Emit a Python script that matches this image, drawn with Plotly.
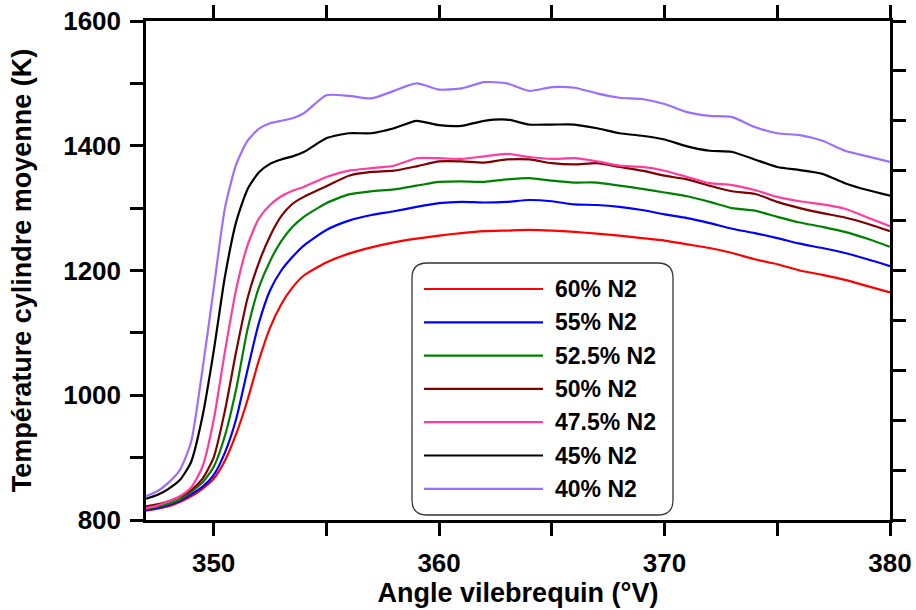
import plotly.graph_objects as go

# ---- data ----
angle = [347, 347.5, 348, 348.5, 349, 349.5, 350, 350.5, 351, 351.5, 352, 352.5, 353, 353.5, 354,
         355, 356, 357, 358, 359, 360, 361, 362, 363, 364, 365, 366, 367, 368, 369, 370,
         371, 372, 373, 374, 375, 376, 377, 378, 379, 380]

n2_60 = [815, 818, 822, 829, 838, 850, 866, 895, 938, 992, 1055, 1108, 1146, 1173, 1192,
         1213, 1227, 1237, 1245, 1251, 1256, 1260, 1263, 1264, 1265, 1264, 1262, 1259, 1256, 1252, 1248,
         1242, 1236, 1228, 1218, 1210, 1200, 1193, 1185, 1175, 1165]
n2_55 = [816, 819, 824, 831, 841, 853, 872, 908, 962, 1040, 1115, 1168, 1200, 1222, 1240,
         1265, 1280, 1289, 1295, 1302, 1308, 1310, 1309, 1310, 1313, 1311, 1306, 1305, 1302, 1297, 1290,
         1284, 1276, 1267, 1260, 1252, 1243, 1236, 1228, 1218, 1207]
n2_525 = [818, 821, 826, 833, 845, 860, 885, 935, 1010, 1105, 1172, 1215, 1247, 1270, 1286,
          1308, 1322, 1327, 1330, 1336, 1342, 1343, 1342, 1346, 1348, 1344, 1341, 1341, 1336, 1331, 1325,
          1319, 1310, 1300, 1296, 1286, 1277, 1270, 1262, 1251, 1238]
n2_50 = [822, 825, 830, 837, 848, 866, 900, 975, 1070, 1155, 1212, 1255, 1287, 1307, 1318,
         1335, 1352, 1358, 1360, 1367, 1375, 1375, 1373, 1378, 1378, 1372, 1370, 1372, 1366, 1360, 1352,
         1346, 1336, 1327, 1323, 1310, 1300, 1292, 1285, 1275, 1263]
n2_475 = [819, 823, 830, 838, 852, 885, 960, 1070, 1170, 1240, 1283, 1305, 1319, 1328, 1334,
          1350, 1360, 1364, 1368, 1380, 1380, 1379, 1383, 1387, 1382, 1379, 1380, 1375, 1368, 1366, 1360,
          1350, 1340, 1337, 1329, 1318, 1311, 1306, 1299, 1285, 1271]
n2_45 = [834, 840, 850, 864, 893, 965, 1070, 1190, 1278, 1330, 1357, 1371, 1378, 1383, 1390,
         1412, 1420, 1420, 1428, 1440, 1433, 1432, 1440, 1442, 1434, 1434, 1434, 1428, 1420, 1416, 1410,
         1399, 1392, 1390, 1378, 1366, 1361, 1355, 1340, 1329, 1320]
n2_40 = [838, 846, 860, 880, 925, 1040, 1170, 1300, 1370, 1408, 1427, 1436, 1440, 1444, 1452,
         1481, 1480, 1476, 1488, 1500, 1490, 1492, 1502, 1500, 1488, 1494, 1493, 1484, 1477, 1475, 1467,
         1454, 1448, 1446, 1430, 1420, 1417, 1408, 1392, 1383, 1374]

series_names = ["60% N2", "55% N2", "52.5% N2", "50% N2", "47.5% N2", "45% N2", "40% N2"]
series_values = [n2_60, n2_55, n2_525, n2_50, n2_475, n2_45, n2_40]
series_colors = ["#ff0000", "#0000ff", "#008000", "#800000", "#ff3d9e", "#000000", "#9d6dff"]

x_ticks = [350, 355, 360, 365, 370, 375, 380]
x_labels = ["350", "", "360", "", "370", "", "380"]
y_ticks = [800, 900, 1000, 1100, 1200, 1300, 1400, 1500, 1600]
y_labels = ["800", "", "1000", "", "1200", "", "1400", "", "1600"]
y_right_ticks = [800 + 80 * i for i in range(11)]

FONT = "Liberation Sans, Arial, sans-serif"

fig = go.Figure()
for name, vals, col in zip(series_names, series_values, series_colors):
    fig.add_trace(go.Scatter(x=angle, y=vals, mode="lines", name=name,
                             line=dict(color=col, width=2.2, shape="spline", smoothing=0.6),
                             showlegend=False))

# invisible trace to activate secondary axes
fig.add_trace(go.Scatter(x=[347], y=[800], xaxis="x2", yaxis="y2", mode="markers",
                         marker=dict(opacity=0), showlegend=False, hoverinfo="skip"))

axis_common = dict(showline=True, linecolor="black", linewidth=2.5, ticks="outside",
                   ticklen=13, tickwidth=2.5, tickcolor="black", showgrid=False, zeroline=False,
                   automargin=False)

fig.update_layout(
    width=916, height=610,
    margin=dict(l=146, r=26, t=21, b=90),
    paper_bgcolor="white", plot_bgcolor="white",
    font=dict(family=FONT, color="black"),
    xaxis=dict(range=[347, 380], tickvals=x_ticks, ticktext=x_labels,
               tickfont=dict(size=26, family=FONT, weight="bold"),
               title=dict(text="<b>Angle vilebrequin (°V)</b>", font=dict(size=27), standoff=6),
               ticklabelstandoff=5, ticklabeloverflow="allow", **axis_common),
    yaxis=dict(range=[800, 1600], tickvals=y_ticks, ticktext=y_labels,
               tickfont=dict(size=26, family=FONT, weight="bold"),
               title=dict(text="<b>Température cylindre moyenne (K)</b>", font=dict(size=27), standoff=24),
               ticklabelstandoff=4, ticklabeloverflow="allow", **axis_common),
    xaxis2=dict(range=[347, 380], overlaying="x", side="top", tickvals=x_ticks,
                showticklabels=False, **axis_common),
    yaxis2=dict(range=[800, 1600], overlaying="y", side="right", tickvals=y_right_ticks,
                showticklabels=False, **axis_common),
)

# ---- manual legend (rounded box, long line samples) ----
W, H = 744.0, 499.0
def px(v):
    return (v - 146) / W
def py(v):
    return (520 - v) / H

bx0, bx1, by0, by1, r = px(412), px(673), py(515), py(263), 15
rx, ry = r / W, r / H
path = (f"M {bx0+rx},{by1} L {bx1-rx},{by1} Q {bx1},{by1} {bx1},{by1-ry} "
        f"L {bx1},{by0+ry} Q {bx1},{by0} {bx1-rx},{by0} "
        f"L {bx0+rx},{by0} Q {bx0},{by0} {bx0},{by0+ry} "
        f"L {bx0},{by1-ry} Q {bx0},{by1} {bx0+rx},{by1} Z")
fig.add_shape(type="path", path=path, xref="paper", yref="paper",
              line=dict(color="#333333", width=1.3), fillcolor="white", layer="above")

row0, step = 289, 33.3
for i, (name, col) in enumerate(zip(series_names, series_colors)):
    yy = py(row0 + i * step)
    fig.add_shape(type="line", xref="paper", yref="paper", x0=px(424), x1=px(543), y0=yy, y1=yy,
                  line=dict(color=col, width=2.2), layer="above")
    fig.add_annotation(xref="paper", yref="paper", x=px(553), y=yy, xanchor="left", yanchor="middle",
                       text=f"<b>{name}</b>", showarrow=False, font=dict(size=23, family=FONT, color="black"))

# remove the browser's default 8px body margin so the figure fills the window exactly
fig.write_html("out.html", config={"displayModeBar": False},
               post_script="document.body.style.margin='0px';")
